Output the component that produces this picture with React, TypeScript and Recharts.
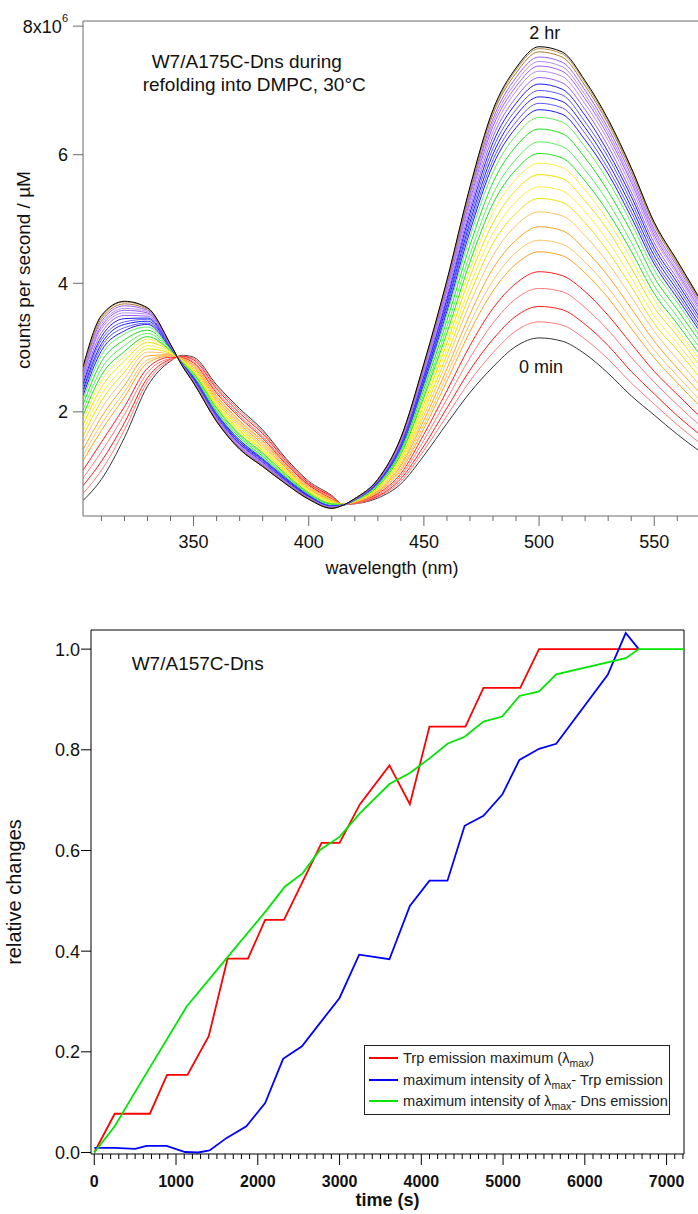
import { LineChart, Line, XAxis, YAxis, ReferenceLine, Legend } from "recharts";

const FONT = "'Liberation Sans', Arial, Helvetica, sans-serif";
const AXIS_GRAY = "#6a6a6a";
const INK = "#111";

// ---------- top panel: Dns/Trp emission spectra, 0 min -> 2 hr ----------
const wavelengths = [302, 310, 320, 330, 340, 345, 350, 360, 370, 380, 390, 400, 410, 415, 420, 430, 440, 450, 460, 470, 480, 490, 500, 510, 520, 530, 540, 550, 560, 570];

// one row per spectrum (counts per second / µM, x10^6), oldest first
const spectra = [
  [0.62, 0.95, 1.60, 2.40, 2.79, 2.88, 2.85, 2.42, 2.05, 1.72, 1.28, 0.92, 0.70, 0.56, 0.57, 0.66, 0.88, 1.32, 1.82, 2.30, 2.70, 3.02, 3.15, 3.10, 2.90, 2.60, 2.25, 1.95, 1.65, 1.38],
  [0.73, 1.09, 1.72, 2.47, 2.80, 2.87, 2.83, 2.39, 2.02, 1.69, 1.26, 0.91, 0.69, 0.56, 0.57, 0.68, 0.92, 1.40, 1.94, 2.48, 2.92, 3.26, 3.40, 3.35, 3.13, 2.82, 2.45, 2.12, 1.80, 1.51],
  [0.85, 1.23, 1.83, 2.53, 2.82, 2.86, 2.81, 2.36, 1.98, 1.66, 1.24, 0.89, 0.68, 0.56, 0.58, 0.69, 0.96, 1.47, 2.06, 2.65, 3.13, 3.49, 3.64, 3.59, 3.36, 3.03, 2.63, 2.28, 1.94, 1.64],
  [0.97, 1.38, 1.96, 2.61, 2.83, 2.85, 2.78, 2.32, 1.94, 1.62, 1.21, 0.87, 0.67, 0.56, 0.58, 0.71, 1.00, 1.56, 2.20, 2.84, 3.38, 3.76, 3.92, 3.87, 3.62, 3.27, 2.85, 2.46, 2.11, 1.78],
  [1.09, 1.53, 2.08, 2.68, 2.85, 2.84, 2.76, 2.29, 1.91, 1.59, 1.19, 0.86, 0.65, 0.56, 0.59, 0.73, 1.04, 1.65, 2.33, 3.03, 3.61, 4.00, 4.18, 4.12, 3.87, 3.50, 3.06, 2.63, 2.27, 1.92],
  [1.24, 1.71, 2.23, 2.76, 2.87, 2.83, 2.73, 2.25, 1.86, 1.55, 1.16, 0.84, 0.64, 0.56, 0.59, 0.75, 1.09, 1.74, 2.48, 3.25, 3.88, 4.30, 4.49, 4.43, 4.16, 3.77, 3.30, 2.84, 2.45, 2.08],
  [1.32, 1.81, 2.31, 2.81, 2.88, 2.83, 2.72, 2.23, 1.84, 1.53, 1.15, 0.83, 0.63, 0.56, 0.60, 0.76, 1.12, 1.80, 2.57, 3.38, 4.04, 4.48, 4.67, 4.61, 4.33, 3.93, 3.44, 2.96, 2.56, 2.18],
  [1.41, 1.92, 2.41, 2.87, 2.89, 2.82, 2.70, 2.20, 1.81, 1.50, 1.13, 0.81, 0.62, 0.56, 0.60, 0.77, 1.16, 1.87, 2.67, 3.52, 4.23, 4.67, 4.88, 4.82, 4.52, 4.11, 3.61, 3.10, 2.68, 2.29],
  [1.52, 2.05, 2.52, 2.93, 2.90, 2.81, 2.68, 2.17, 1.78, 1.47, 1.11, 0.80, 0.61, 0.56, 0.60, 0.79, 1.19, 1.94, 2.79, 3.69, 4.43, 4.90, 5.11, 5.05, 4.74, 4.31, 3.79, 3.25, 2.82, 2.41],
  [1.62, 2.17, 2.62, 2.98, 2.91, 2.80, 2.66, 2.15, 1.75, 1.45, 1.09, 0.79, 0.60, 0.56, 0.61, 0.80, 1.23, 2.01, 2.89, 3.83, 4.62, 5.09, 5.32, 5.26, 4.94, 4.49, 3.95, 3.37, 2.96, 2.52],
  [1.70, 2.27, 2.70, 3.03, 2.92, 2.80, 2.64, 2.12, 1.72, 1.42, 1.07, 0.78, 0.60, 0.56, 0.61, 0.81, 1.25, 2.06, 2.98, 3.96, 4.78, 5.27, 5.50, 5.44, 5.11, 4.65, 4.09, 3.49, 3.07, 2.61],
  [1.79, 2.38, 2.79, 3.08, 2.94, 2.79, 2.63, 2.10, 1.70, 1.40, 1.06, 0.76, 0.59, 0.56, 0.61, 0.82, 1.28, 2.12, 3.07, 4.10, 4.94, 5.45, 5.69, 5.63, 5.28, 4.82, 4.24, 3.62, 3.18, 2.71],
  [1.87, 2.48, 2.87, 3.13, 2.95, 2.78, 2.61, 2.08, 1.67, 1.38, 1.04, 0.75, 0.58, 0.56, 0.62, 0.83, 1.31, 2.18, 3.16, 4.22, 5.10, 5.62, 5.87, 5.80, 5.45, 4.97, 4.38, 3.74, 3.28, 2.80],
  [1.94, 2.57, 2.94, 3.17, 2.95, 2.78, 2.60, 2.06, 1.65, 1.36, 1.03, 0.74, 0.57, 0.56, 0.62, 0.84, 1.34, 2.23, 3.23, 4.33, 5.24, 5.77, 6.02, 5.95, 5.59, 5.10, 4.50, 3.84, 3.37, 2.88],
  [2.02, 2.67, 3.03, 3.22, 2.96, 2.77, 2.58, 2.04, 1.63, 1.34, 1.01, 0.73, 0.57, 0.56, 0.62, 0.86, 1.37, 2.28, 3.32, 4.45, 5.39, 5.93, 6.20, 6.13, 5.76, 5.26, 4.64, 3.96, 3.48, 2.98],
  [2.11, 2.78, 3.12, 3.27, 2.98, 2.77, 2.56, 2.01, 1.60, 1.31, 0.99, 0.72, 0.56, 0.55, 0.63, 0.87, 1.40, 2.35, 3.42, 4.59, 5.57, 6.13, 6.40, 6.33, 5.95, 5.43, 4.80, 4.09, 3.59, 3.08],
  [2.19, 2.88, 3.21, 3.32, 2.99, 2.76, 2.55, 1.99, 1.57, 1.29, 0.98, 0.71, 0.55, 0.55, 0.63, 0.88, 1.43, 2.40, 3.51, 4.72, 5.73, 6.30, 6.58, 6.51, 6.12, 5.59, 4.94, 4.21, 3.70, 3.17],
  [2.25, 2.95, 3.26, 3.36, 2.99, 2.75, 2.54, 1.97, 1.56, 1.27, 0.97, 0.70, 0.54, 0.55, 0.63, 0.89, 1.44, 2.44, 3.57, 4.81, 5.84, 6.42, 6.70, 6.63, 6.23, 5.70, 5.03, 4.30, 3.77, 3.24],
  [2.30, 3.01, 3.31, 3.38, 3.00, 2.75, 2.53, 1.96, 1.54, 1.26, 0.96, 0.69, 0.54, 0.55, 0.63, 0.89, 1.46, 2.47, 3.62, 4.88, 5.92, 6.51, 6.80, 6.73, 6.33, 5.78, 5.11, 4.36, 3.83, 3.29],
  [2.34, 3.06, 3.36, 3.41, 3.01, 2.75, 2.52, 1.95, 1.53, 1.25, 0.95, 0.69, 0.53, 0.55, 0.64, 0.90, 1.48, 2.50, 3.67, 4.95, 6.01, 6.61, 6.90, 6.83, 6.42, 5.87, 5.19, 4.43, 3.89, 3.34],
  [2.39, 3.12, 3.40, 3.44, 3.01, 2.74, 2.51, 1.94, 1.51, 1.24, 0.94, 0.68, 0.53, 0.55, 0.64, 0.91, 1.49, 2.54, 3.72, 5.02, 6.10, 6.70, 7.00, 6.93, 6.51, 5.96, 5.27, 4.50, 3.95, 3.40],
  [2.43, 3.17, 3.45, 3.46, 3.02, 2.74, 2.50, 1.92, 1.50, 1.22, 0.93, 0.68, 0.53, 0.55, 0.64, 0.91, 1.51, 2.57, 3.76, 5.09, 6.19, 6.80, 7.10, 7.02, 6.61, 6.04, 5.35, 4.56, 4.01, 3.45],
  [2.48, 3.23, 3.50, 3.49, 3.02, 2.74, 2.49, 1.91, 1.49, 1.21, 0.92, 0.67, 0.52, 0.55, 0.64, 0.92, 1.52, 2.60, 3.81, 5.16, 6.28, 6.89, 7.20, 7.12, 6.70, 6.13, 5.42, 4.63, 4.07, 3.50],
  [2.53, 3.29, 3.54, 3.52, 3.03, 2.73, 2.48, 1.90, 1.47, 1.20, 0.91, 0.66, 0.52, 0.55, 0.64, 0.93, 1.54, 2.63, 3.86, 5.23, 6.36, 6.99, 7.30, 7.22, 6.79, 6.22, 5.50, 4.70, 4.13, 3.55],
  [2.56, 3.33, 3.58, 3.54, 3.03, 2.73, 2.48, 1.89, 1.46, 1.19, 0.91, 0.66, 0.51, 0.55, 0.64, 0.93, 1.55, 2.66, 3.90, 5.29, 6.44, 7.06, 7.38, 7.30, 6.87, 6.29, 5.57, 4.75, 4.17, 3.59],
  [2.59, 3.37, 3.61, 3.56, 3.04, 2.73, 2.47, 1.88, 1.45, 1.18, 0.90, 0.65, 0.51, 0.55, 0.65, 0.94, 1.56, 2.68, 3.94, 5.34, 6.50, 7.13, 7.45, 7.37, 6.93, 6.35, 5.62, 4.80, 4.21, 3.63],
  [2.63, 3.41, 3.65, 3.58, 3.04, 2.73, 2.46, 1.87, 1.44, 1.17, 0.89, 0.65, 0.51, 0.55, 0.65, 0.94, 1.58, 2.70, 3.97, 5.39, 6.56, 7.20, 7.52, 7.44, 7.00, 6.41, 5.68, 4.84, 4.26, 3.67],
  [2.66, 3.45, 3.68, 3.60, 3.05, 2.72, 2.46, 1.86, 1.43, 1.16, 0.89, 0.65, 0.50, 0.55, 0.65, 0.95, 1.59, 2.72, 4.01, 5.44, 6.63, 7.27, 7.60, 7.52, 7.07, 6.48, 5.74, 4.90, 4.30, 3.71],
  [2.69, 3.48, 3.71, 3.61, 3.05, 2.72, 2.45, 1.85, 1.42, 1.15, 0.88, 0.64, 0.50, 0.55, 0.65, 0.95, 1.60, 2.74, 4.03, 5.48, 6.67, 7.32, 7.65, 7.57, 7.12, 6.52, 5.78, 4.93, 4.33, 3.73],
  [2.70, 3.50, 3.72, 3.62, 3.05, 2.72, 2.45, 1.85, 1.42, 1.15, 0.88, 0.64, 0.50, 0.55, 0.65, 0.95, 1.60, 2.75, 4.05, 5.50, 6.70, 7.35, 7.68, 7.60, 7.15, 6.55, 5.80, 4.95, 4.35, 3.75],
];

const spectrumColors = [
  "#333333",
  "#ff7a7a", "#ff1a1a", "#ff7a7a", "#ff1a1a",
  "#ffa31a", "#ffc266", "#ffa31a", "#ffc266",
  "#ece400", "#fff03a", "#ece400", "#fff03a",
  "#1ee01e", "#5cf05c", "#1ee01e", "#5cf05c",
  "#1a1aff", "#5c5cff", "#1a1aff", "#5c5cff", "#1a1aff",
  "#9a5cff", "#b58af0", "#9a5cff", "#b58af0", "#9a5cff",
  "#a87a36", "#b88a4a",
  "#000000",
];

const wlMajorTicks = [350, 400, 450, 500, 550];
const wlMinorStep = 10;
const countTicks = [2, 4, 6, 8];

// ---------- bottom panel: relative changes vs time ----------
const redTimes = [0, 250, 680, 890, 1140, 1400, 1630, 1880, 2090, 2320, 2780, 3000, 3250, 3610, 3860, 4100, 4540, 4760, 5210, 5440, 6650];
const redValues = [0.0, 0.077, 0.077, 0.154, 0.154, 0.231, 0.385, 0.385, 0.462, 0.462, 0.615, 0.615, 0.692, 0.769, 0.692, 0.846, 0.846, 0.923, 0.923, 1.0, 1.0];

const blueTimes = [0, 250, 500, 640, 885, 1110, 1270, 1410, 1620, 1860, 2090, 2310, 2540, 2760, 3000, 3240, 3610, 3860, 4100, 4320, 4530, 4760, 4990, 5200, 5440, 5650, 6280, 6500, 6660];
const blueValues = [0.009, 0.009, 0.007, 0.013, 0.013, 0.001, 0.0, 0.004, 0.029, 0.052, 0.098, 0.186, 0.211, 0.257, 0.307, 0.393, 0.384, 0.49, 0.54, 0.54, 0.649, 0.669, 0.711, 0.78, 0.802, 0.812, 0.949, 1.032, 1.0];

const greenTimes = [0, 250, 480, 1130, 1620, 2110, 2330, 2550, 2760, 3000, 3250, 3610, 3860, 4100, 4320, 4530, 4760, 4990, 5200, 5440, 5650, 6500, 6660, 7200];
const greenValues = [0.0, 0.052, 0.115, 0.29, 0.386, 0.482, 0.528, 0.555, 0.601, 0.627, 0.674, 0.732, 0.754, 0.783, 0.812, 0.826, 0.856, 0.866, 0.907, 0.916, 0.95, 0.982, 1.0, 1.0];

const timeMajorTicks = [0, 1000, 2000, 3000, 4000, 5000, 6000, 7000];
const timeMinorStep = 100;
const relTicks = [0, 0.2, 0.4, 0.6, 0.8, 1.0];

const legendRows = [
  { color: "#ff0000", before: "Trp emission maximum (λ", after: ")" },
  { color: "#0000ff", before: "maximum intensity of λ", after: "- Trp emission" },
  { color: "#00e600", before: "maximum intensity of λ", after: "- Dns emission" },
];

// tables for recharts
const spectrumRows = wavelengths.map((wl, j) => {
  const row: Record<string, number> = { wl };
  spectra.forEach((s, i) => {
    row[`s${i}`] = s[j];
  });
  return row;
});

const toPoints = (ts: number[], vs: number[]) => ts.map((t, i) => ({ t, v: vs[i] }));
const redData = toPoints(redTimes, redValues);
const blueData = toPoints(blueTimes, blueValues);
const greenData = toPoints(greenTimes, greenValues);

const wlTicks: number[] = [];
for (let w = 310; w <= 560; w += wlMinorStep) wlTicks.push(w);
const timeTicks: number[] = [];
for (let t = 0; t <= 7200; t += timeMinorStep) timeTicks.push(t);

function WlTick({ x, y, payload }: any) {
  const v = payload.value;
  const major = wlMajorTicks.includes(v);
  return (
    <g>
      <line x1={x} x2={x} y1={y} y2={y + (major ? 10 : 5)} stroke={AXIS_GRAY} />
      {major && (
        <text x={x} y={y + 32} textAnchor="middle" fontSize={18} fontFamily={FONT} fill={INK}>
          {v}
        </text>
      )}
    </g>
  );
}

function CountTick({ x, y, payload }: any) {
  const v = payload.value;
  return (
    <g>
      <line x1={x - 10} x2={x} y1={y} y2={y} stroke={AXIS_GRAY} />
      <text x={x - 15} y={y + 6.5} textAnchor="end" fontSize={18} fontFamily={FONT} fill={INK}>
        {v === 8 ? (
          <>
            8x10<tspan dy={-11} fontSize={11}>6</tspan>
          </>
        ) : (
          v
        )}
      </text>
    </g>
  );
}

function TimeTick({ x, y, payload }: any) {
  const v = payload.value;
  const major = timeMajorTicks.includes(v);
  return (
    <g>
      <line x1={x} x2={x} y1={y} y2={y + (major ? 11 : 5)} stroke="#000" />
      {major && (
        <text x={x} y={y + 33} textAnchor="middle" fontSize={16} fontWeight="bold" fontFamily={FONT} fill={INK}>
          {v}
        </text>
      )}
    </g>
  );
}

function RelTick({ x, y, payload }: any) {
  const v = payload.value;
  return (
    <g>
      <line x1={x - 10} x2={x} y1={y} y2={y} stroke="#000" />
      <text x={x - 11} y={y + 6.5} textAnchor="end" fontSize={18} fontFamily={FONT} fill={INK}>
        {v.toFixed(1)}
      </text>
    </g>
  );
}

function LambdaMax() {
  return <span style={{ fontSize: 10.5, position: "relative", top: 4 }}>max</span>;
}

function RelLegend() {
  return (
    <div
      style={{
        boxSizing: "border-box",
        width: 306,
        height: 70,
        border: "1px solid #222",
        background: "#fff",
        paddingTop: 1,
        fontFamily: FONT,
        fontSize: 14.6,
        color: "#222",
      }}
    >
      {legendRows.map((r) => (
        <div key={r.color} style={{ display: "flex", alignItems: "center", height: 21.7, whiteSpace: "nowrap" }}>
          <div style={{ width: 29, height: 2, marginLeft: 4, background: r.color }} />
          <div style={{ marginLeft: 5 }}>
            {r.before}
            <LambdaMax />
            {r.after}
          </div>
        </div>
      ))}
    </div>
  );
}

export default function App() {
  return (
    <div style={{ position: "absolute", left: 0, top: 0, width: 698, height: 1214, background: "#fff", overflow: "hidden" }}>
      <div style={{ position: "absolute", left: 0, top: 0 }}>
        <LineChart width={698} height={590} data={spectrumRows} margin={{ top: 21, right: 0, bottom: 0, left: 0 }}>
          <XAxis
            dataKey="wl"
            type="number"
            domain={[302, 569]}
            allowDataOverflow
            ticks={wlTicks}
            interval={0}
            tick={(p: any) => <WlTick {...p} />}
            tickLine={false}
            tickSize={0}
            tickMargin={0}
            axisLine={{ stroke: AXIS_GRAY }}
            height={74}
          />
          <YAxis
            type="number"
            domain={[0.38, 8.08]}
            allowDataOverflow
            ticks={countTicks}
            interval={0}
            tick={(p: any) => <CountTick {...p} />}
            tickLine={false}
            tickSize={0}
            tickMargin={0}
            axisLine={{ stroke: AXIS_GRAY }}
            width={83}
          />
          <ReferenceLine y={8.08} stroke={AXIS_GRAY} />
          {spectra.map((_, i) => (
            <Line
              key={i}
              dataKey={`s${i}`}
              type="monotone"
              stroke={spectrumColors[i]}
              strokeWidth={1}
              dot={false}
              activeDot={false}
              isAnimationActive={false}
            />
          ))}
          <text x={151.7} y={68} fontSize={19} fontFamily={FONT} fill={INK}>
            W7/A175C-Dns during
          </text>
          <text x={142.7} y={91} fontSize={19} fontFamily={FONT} fill={INK}>
            refolding into DMPC, 30°C
          </text>
          <text x={544.7} y={39} textAnchor="middle" fontSize={18} fontFamily={FONT} fill={INK}>
            2 hr
          </text>
          <text x={541} y={372.5} textAnchor="middle" fontSize={18} fontFamily={FONT} fill={INK}>
            0 min
          </text>
          <text x={392} y={574} textAnchor="middle" fontSize={18} fontFamily={FONT} fill={INK}>
            wavelength (nm)
          </text>
          <text
            x={29.5}
            y={270}
            transform="rotate(-90, 29.5, 270)"
            textAnchor="middle"
            fontSize={19}
            fontFamily={FONT}
            fill={INK}
          >
            counts per second / µM
          </text>
        </LineChart>
      </div>

      <div style={{ position: "absolute", left: 0, top: 590 }}>
        <LineChart width={698} height={624} margin={{ top: 40, right: 14, bottom: 0, left: 0 }}>
          <XAxis
            dataKey="t"
            type="number"
            domain={[-40, 7213]}
            allowDataOverflow
            ticks={timeTicks}
            interval={0}
            tick={(p: any) => <TimeTick {...p} />}
            tickLine={false}
            tickSize={0}
            tickMargin={0}
            axisLine={{ stroke: "#000" }}
            height={60}
          />
          <YAxis
            type="number"
            domain={[-0.003, 1.038]}
            allowDataOverflow
            ticks={relTicks}
            interval={0}
            tick={(p: any) => <RelTick {...p} />}
            tickLine={false}
            tickSize={0}
            tickMargin={0}
            axisLine={{ stroke: "#000" }}
            width={91}
          />
          <ReferenceLine y={1.038} stroke="#000" />
          <ReferenceLine x={7213} stroke="#000" />
          <Line data={redData} dataKey="v" type="linear" stroke="#ff0000" strokeWidth={1.8} dot={false} activeDot={false} isAnimationActive={false} />
          <Line data={blueData} dataKey="v" type="linear" stroke="#0000ff" strokeWidth={1.8} dot={false} activeDot={false} isAnimationActive={false} />
          <Line data={greenData} dataKey="v" type="linear" stroke="#00e600" strokeWidth={1.8} dot={false} activeDot={false} isAnimationActive={false} />
          <Legend
            layout="vertical"
            align="center"
            verticalAlign="middle"
            content={() => <RelLegend />}
            wrapperStyle={{ position: "absolute", left: 364, top: 455, width: 306, height: 70 }}
          />
          <text x={131.7} y={80} fontSize={19} fontFamily={FONT} fill={INK}>
            W7/A157C-Dns
          </text>
          <text x={387.5} y={616} textAnchor="middle" fontSize={18} fontWeight="bold" fontFamily={FONT} fill={INK}>
            time (s)
          </text>
          <text
            x={21}
            y={302}
            transform="rotate(-90, 21, 302)"
            textAnchor="middle"
            fontSize={20}
            fontFamily={FONT}
            fill={INK}
          >
            relative changes
          </text>
        </LineChart>
      </div>
    </div>
  );
}
